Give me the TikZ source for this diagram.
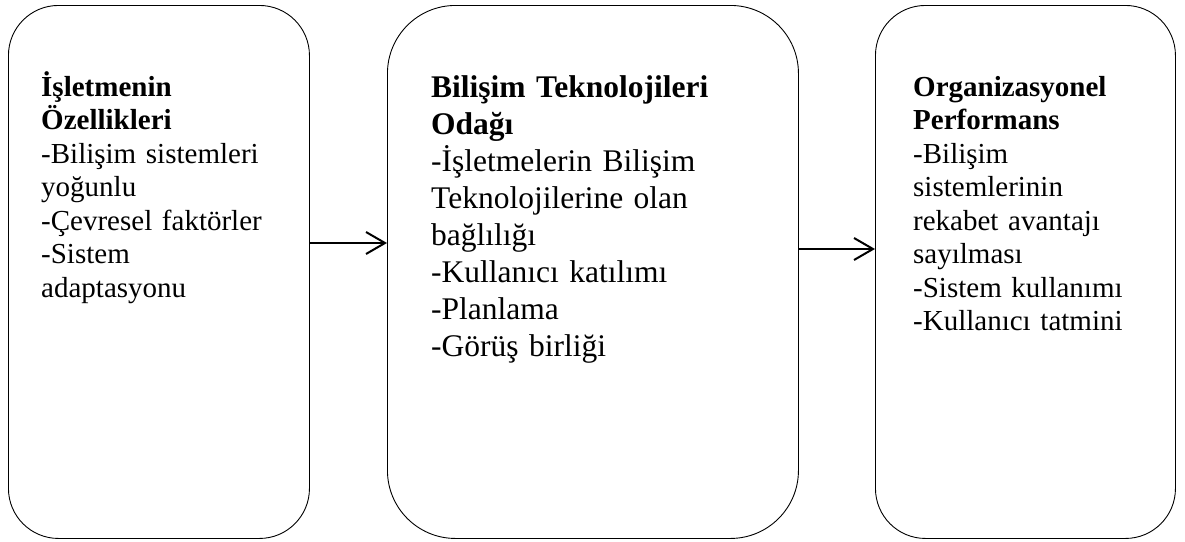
\documentclass[tikz,border=0pt]{standalone}
\usepackage{fontspec}
\setmainfont{Liberation Serif}
\usetikzlibrary{arrows.meta}
\begin{document}
\begin{tikzpicture}[x=1pt,y=-1pt,
  box/.style={draw, line width=0.9pt, rounded corners=#1, inner sep=0pt, anchor=north west},
  txt/.style={anchor=base west, inner sep=0pt, text width=#1, align=left, font=\fontsize{29pt}{33.5pt}\selectfont},
  bigtxt/.style={anchor=base west, inner sep=0pt, text width=#1, align=left, font=\fontsize{31.5pt}{37pt}\selectfont},
  arr/.style={line width=2pt, -{Straight Barb[length=19pt,width=22pt,line width=2pt]}}]
\useasboundingbox (0,0) rectangle (1185,541);
\node[box=50pt, minimum width=301pt, minimum height=533pt] (b1) at (8,5) {};
\node[box=68pt, minimum width=411pt, minimum height=533pt] (b2) at (387,5) {};
\node[box=50pt, minimum width=300pt, minimum height=533pt] (b3) at (875,5) {};
\node[txt=260pt] (t1) at (41,96) {\textbf{İşletmenin}\\\textbf{Özellikleri}\\-Bilişim sistemleri\\yoğunlu\\-Çevresel faktörler\\-Sistem\\adaptasyonu};
\node[bigtxt=360pt] (t2) at (431,97) {\textbf{Bilişim Teknolojileri}\\\textbf{Odağı}\\-İşletmelerin Bilişim\\Teknolojilerine olan\\bağlılığı\\-Kullanıcı katılımı\\-Planlama\\-Görüş birliği};
\node[txt=250pt] (t3) at (913,96) {\textbf{Organizasyonel}\\\textbf{Performans}\\-Bilişim\\sistemlerinin\\rekabet avantajı\\sayılması\\-Sistem kullanımı\\-Kullanıcı tatmini};
\draw[arr] (b1.east |- 0,243) -- (b2.west |- 0,243);
\draw[arr] (b2.east |- 0,249) -- (b3.west |- 0,249);
\end{tikzpicture}
\end{document}
